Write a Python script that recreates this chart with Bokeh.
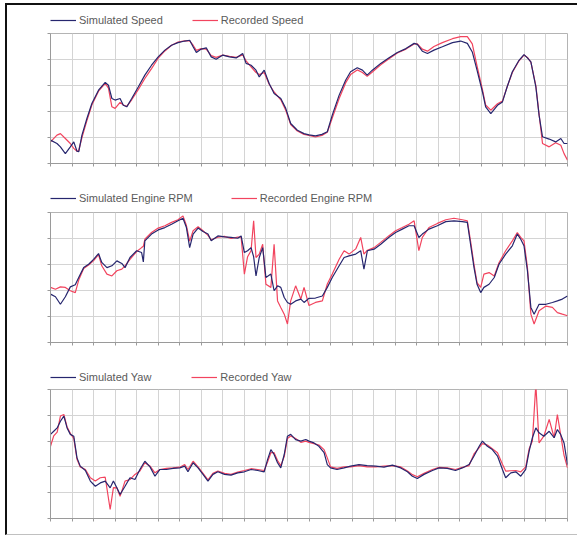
from bokeh.plotting import figure
from bokeh.models import FixedTicker, Legend, LegendItem, Range1d
from bokeh.layouts import column
from bokeh.embed import file_html
from bokeh.resources import INLINE

# ---------------- data (time in s) ----------------
t_speed = [0, 3, 4.6, 6.9, 9.2, 10.8, 12.3, 13.1, 14.6, 16.9, 19.2, 22.3, 25.4, 26.9, 28.5, 30, 32.3, 33.8,
           35.4, 37.7, 40.8, 43.8, 46.9, 50, 53.1, 56.2, 59.2, 62.3, 64.6, 66.2, 67.7, 70, 72.3, 74.6, 76.9,
           80, 83.1, 86.2, 89.2, 90.8, 93.1, 95.4, 96.9, 99.2, 101.5, 103.8, 106.9, 109.2, 111.5, 114.6,
           117.7, 120, 123, 126, 128.5, 130.8, 134, 137, 139.3, 142.4, 144.8, 147, 149.4, 153.3, 157, 161,
           165, 168.8, 170.3, 172.6, 175, 178, 181.9, 186.6, 190.4, 193.5, 195.8, 198, 200.5, 202, 204.4,
           207.5, 209.8, 212, 214.4, 217.5, 219.8, 221.4, 223, 225.3, 226.8, 228.4, 231.5, 234.5, 236.9,
           238.4, 240]
sim_speed = [18, 15.4, 12.8, 7.6, 12.8, 16.6, 9.4, 9, 21.8, 34.6, 46.2, 56.4, 62.4, 60.2, 50, 48.8, 50, 44.8,
             43.6, 50, 59, 68, 75.6, 82, 87.2, 91, 93, 94.2, 94.8, 89.8, 85.4, 88, 89, 82, 80.2,
             83.4, 82, 81.2, 84.6, 77, 75.6, 71.8, 66.6, 71.8, 61.6, 53.8, 50, 42.4, 30.8, 25.6,
             23, 22, 21.2, 22.4, 24.4, 37.2, 52.6, 64, 70.6, 73.6, 71.8, 68, 71.8, 77, 81.2, 85.4,
             88.4, 92.4, 91.6, 86.4, 84.6, 87.2, 89.8, 93, 94.2, 92.4, 85.8, 71.8, 55.2, 43.6, 38.4,
             44.8, 47.4, 59, 70.6, 79.4, 83.8, 81.2, 78.2, 59, 37.2, 20.6, 18.8, 16.6, 19.2,
             15.4, 15.4]
rec_speed = [16.6, 21.8, 23, 19.2, 15.4, 11.6, 9.4, 10, 20, 33, 45, 55.6, 61.6, 58, 43.6, 42.4, 47, 45,
             44, 49, 57, 65.4, 73, 81, 86.6, 91, 93.4, 94.4, 94.4, 91, 87, 88.4, 88, 83, 81.6,
             83.4, 82.4, 81.6, 83.6, 79, 74.4, 70, 68.4, 70, 61, 55, 49, 41, 30, 25,
             22.4, 21.6, 20.4, 21.6, 24, 35, 50, 62, 68.4, 72, 70, 67, 70.4, 76, 80.4, 85,
             88, 92, 92, 88, 86.4, 90, 93, 96, 97.6, 97.6, 92, 75, 57, 45, 41,
             46, 48, 59, 70, 79, 83.4, 81.6, 78, 60, 38, 15.4, 12.8, 16, 14,
             7.6, 2.6]

t_rpm = [0, 2.3, 4.6, 6.9, 9.2, 11.5, 13.1, 15.4, 17.7, 20, 22.3, 23.8, 26.2, 28.5, 30.8, 33.1, 34.6, 36.9,
         40, 42.3, 43.1, 43.8, 46.9, 50, 53.1, 56.2, 59.2, 61.5, 63.1, 64.6, 66.2, 68.5, 70.8, 73.1, 74.6,
         77.7, 80.8, 83.8, 86.9, 88.5, 90, 91.5, 93.1, 94.3, 95.4, 96.9, 98.5, 100, 102.3, 103.8, 105.4,
         106.9, 108.5, 110, 111.5, 113.8, 116.2, 117.7, 120, 123, 126.2, 128.5, 130.8, 134, 136.3, 138.6,
         141.7, 144, 145.5, 147.1, 150.2, 153.3, 157, 160.2, 163.3, 166.4, 168.8, 171, 172.6, 175.7,
         179.6, 183.5, 187.3, 191.2, 193.5, 195, 196.6, 198, 199.7, 201.2, 203.6, 206, 208.2, 211.3,
         214.4, 216.7, 218.3, 219.8, 221.4, 223, 224.5, 226.8, 230, 233, 235.3, 237.6, 240]
sim_rpm = [1860, 1760, 1470, 1760, 2140, 2220, 2500, 2880, 3010, 3200, 3420, 3080, 2880, 2950, 3140, 3040, 2880, 3270,
           3530, 3460, 3100, 3910, 4170, 4330, 4420, 4550, 4680, 4780, 4420, 3650, 4170, 4400, 4270, 4170, 3910,
           4100, 4060, 4040, 4010, 4100, 3460, 3530, 3650, 3300, 2560, 3270, 3650, 2500, 2630, 1990, 2180,
           2120, 1730, 1540, 1470, 1600, 1670, 1540, 1700, 1710, 1790, 2120, 2500, 2950, 3270, 3330,
           3400, 3530, 2820, 3530, 3590, 3780, 4040, 4230, 4360, 4490, 4490, 4040, 4170, 4360,
           4490, 4650, 4680, 4650, 4620, 3780, 2880, 2240, 1920, 2120, 2240, 2500, 3010, 3400,
           3720, 4170, 3970, 3720, 2760, 1350, 1090, 1470, 1470, 1540, 1600, 1670, 1790]
rec_rpm = [2120, 2050, 2140, 2120, 1990, 1920, 2400, 2850, 2980, 3150, 3380, 2950, 2630, 2560, 2760, 2820, 2950, 3200,
           3500, 3650, 3700, 3970, 4230, 4400, 4490, 4620, 4720, 4870, 4500, 3900, 4300, 4450, 4300, 4120, 3950,
           4050, 4080, 4000, 4050, 4050, 2630, 3300, 3530, 4680, 3270, 3400, 3780, 2240, 2120, 3780, 1600,
           1350, 1090, 710, 1600, 2180, 1670, 2120, 1420, 1540, 1600, 2250, 2630, 3200, 3530, 3400,
           3600, 4040, 3400, 3550, 3650, 3850, 4100, 4300, 4420, 4550, 4680, 3530, 4040, 4420,
           4580, 4720, 4780, 4720, 4680, 3900, 3000, 2300, 2120, 2630, 2690, 2560, 3070, 3530,
           3910, 4230, 4040, 3910, 2880, 1090, 710, 1220, 1400, 1350, 1150, 1090, 1030]

t_yaw = [0, 1.5, 3.1, 4.6, 6.2, 7.7, 9.2, 10.8, 12.3, 13.8, 16.2, 18.5, 20.8, 23.1, 25.4, 27.7, 29.2, 30.8,
         32.3, 34.6, 36.9, 39.2, 41.5, 43.8, 46.2, 48.5, 50.8, 53.8, 56.9, 60, 62.3, 63.8, 66.2, 68.5,
         70.8, 73.1, 75.4, 77.7, 80.8, 83.8, 86.9, 90, 93.1, 96.2, 99.2, 100.8, 102.3, 103.8, 105.4,
         106.9, 108.5, 110, 111.5, 113.8, 116.2, 118.5, 120, 122.3, 124.6, 127, 128.5, 130, 133, 136.3,
         139.3, 143.2, 147, 151, 154.8, 158.7, 162.6, 165.7, 168, 170.3, 173.4, 177.3, 180.4, 184.2,
         188, 191.2, 194.3, 196.6, 199, 200.5, 202.8, 205.1, 207.5, 209.8, 211.3, 213.7, 216, 218.3,
         220.6, 222.2, 223.7, 225.3, 226.8, 229, 231.5, 233.8, 235.3, 236.8, 238.4, 240]
sim_yaw = [12.6, 13.8, 15.1, 17.7, 19.7, 15.1, 12.6, 11.9, 3.5, 0.3, -1.4, -5.5, -7.5, -6.2, -5.5, -8.1, -5.5, -8.1,
           -10.7, -7.5, -4.2, -4.9, -1.0, 2.2, 0, -3.6, -1.0, -1.0, -0.6, -0.4, 0.3, -1.9, 1.6, -0.4,
           -2.9, -5.5, -2.9, -1.9, -2.9, -3.2, -2.3, -1.9, -1.0, -1.4, -1.9, 2.9, 6.7, 4.8, 1.6,
           -0.4, 4.8, 11.9, 12.6, 10.6, 10.0, 10.6, 10.0, 9.3, 8.0, 5.5, 0.9, -0.4, -1.0, -0.4,
           0.3, 0.9, 0.5, 0.3, -0.1, 0.7, -0.4, -1.9, -3.6, -4.5, -2.9, -1.4, -0.4, -0.6,
           -1.4, -0.4, 0.9, 4.2, 8.0, 10.0, 8.0, 6.7, 4.2, -1.0, -4.2, -2.3, -1.9, -3.6,
           -1.0, 6.1, 11.3, 15.1, 13.2, 11.9, 13.8, 11.3, 14.5, 12.6, 9.3, 0.9]
rec_yaw = [8.0, 12, 13.5, 19.7, 20.3, 15.5, 13, 11, 3, 0, -1, -4.2, -5.5, -4.2, -4, -16.5, -8, -8.1,
           -11.4, -5.5, -4.9, -2.9, -1.6, 1.6, 0.3, -2.3, -1.0, -0.6, -0.4, -0.1, 0.9, -1.0, 2.2, 0,
           -2.5, -5, -2.5, -1.6, -2.5, -2.9, -2, -1.4, -0.7, -1.0, -1.4, 2, 5.5, 5.5, 2.5,
           0.5, 4, 11, 12, 11, 9.5, 10, 9.5, 9, 8.5, 6.7, 3.5, 0, -0.6, 0,
           0, 0.5, 0, 0, 0.3, 0.5, 0, -1.6, -3, -3.8, -2.5, -1, -0.2, -0.4,
           -1, -0.2, 0.5, 5, 7.5, 9, 8.5, 7, 5.5, 1, -1.6, -1.5, -1.4, -1.9,
           0, 7, 10, 32, 9.3, 11.9, 18.4, 11.3, 20.3, 12.6, 4.5, -0.4]

panels = [
    ("Simulated Speed", "Recorded Speed", t_speed, sim_speed, rec_speed, (0, 100), 29),
    ("Simulated Engine RPM", "Recorded Engine RPM", t_rpm, sim_rpm, rec_rpm, (0, 5000), 38),
    ("Simulated Yaw", "Recorded Yaw", t_yaw, sim_yaw, rec_yaw, (-20, 30), 40),
]

SIM_COLOR = "#26266e"
REC_COLOR = "#f2445e"
GRID = "#d4d4d4"
AXIS = "#9a9a9a"
W = 570

# (legend strip height, legend bottom offset, plot height, plot border bottom)
sizes = [(27, 6, 148, 17), (31, 7.5, 149, 18), (28, 5.5, 146, 16)]

rows = []
for (lab_s, lab_r, t, s, r, yr, spacing), (lh, lvy, ph, bb) in zip(panels, sizes):
    # legend strip above the plot; its ranges keep the series out of view so only the key shows
    lf = figure(width=W, height=lh, output_backend="svg", toolbar_location=None,
                x_axis_type=None, y_axis_type=None, min_border=0,
                min_border_left=43, min_border_right=10, frame_align=False,
                x_range=Range1d(0, 240), y_range=Range1d(-100001, -100000))
    lf.outline_line_color = None
    lf.grid.visible = False
    lf.background_fill_color = "white"
    lf.border_fill_color = "white"
    g0 = lf.line(t, s, line_color=SIM_COLOR, line_width=1.2)
    g1 = lf.line(t, r, line_color=REC_COLOR, line_width=1.2)
    leg = Legend(items=[LegendItem(label=lab_s, renderers=[g0]), LegendItem(label=lab_r, renderers=[g1])],
                 orientation="horizontal", location=(0, lvy), margin=0, padding=2,
                 spacing=spacing, glyph_width=26, glyph_height=12, label_standoff=3, label_height=12,
                 label_text_font="Liberation Sans", label_text_font_size="11px",
                 label_text_color="#5a5a5a", border_line_color=None, background_fill_alpha=0)
    lf.add_layout(leg)

    p = figure(width=W, height=ph, output_backend="svg", toolbar_location=None,
               x_range=Range1d(0, 240), y_range=Range1d(*yr), frame_align=False,
               min_border_left=43, min_border_right=10, min_border_top=1, min_border_bottom=bb)
    p.background_fill_color = "white"
    p.border_fill_color = "white"
    p.outline_line_color = "#b4b4b4"
    step = (yr[1] - yr[0]) / 5
    p.xaxis.ticker = FixedTicker(ticks=list(range(0, 241, 10)))
    p.yaxis.ticker = FixedTicker(ticks=[yr[0] + i * step for i in range(6)])
    for ax in (p.xaxis[0], p.yaxis[0]):
        ax.major_label_text_color = None
        ax.major_label_text_font_size = "6px"
        ax.axis_line_color = AXIS
        ax.major_tick_line_color = AXIS
        ax.major_tick_out = 3
        ax.major_tick_in = 0
        ax.minor_tick_line_color = None
        ax.major_label_standoff = 0
    p.xgrid.grid_line_color = GRID
    p.ygrid.grid_line_color = GRID
    p.line(t, r, line_color=REC_COLOR, line_width=1.2)
    p.line(t, s, line_color=SIM_COLOR, line_width=1.2)
    rows.extend([lf, p])

layout = column(*rows, spacing=0,
                styles={"border-left": "2px solid #111", "border-top": "2px solid #111",
                        "border-bottom": "1px solid #c0c0c0",
                        "margin-left": "5px", "margin-top": "3px"})

open("out.html", "w").write(file_html(layout, INLINE))
